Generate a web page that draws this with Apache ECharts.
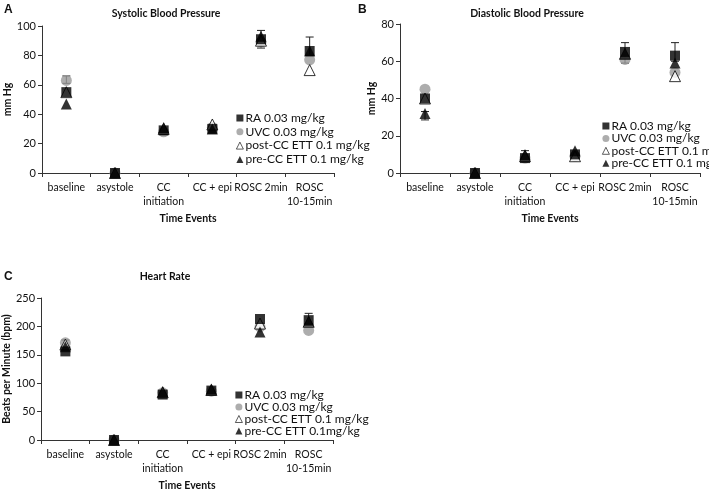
<!DOCTYPE html>
<html><head><meta charset="utf-8">
<script src="https://cdn.jsdelivr.net/npm/echarts@6/dist/echarts.min.js"></script>
<style>html,body{margin:0;padding:0;background:#fff}#c{width:709px;height:492px}</style>
</head><body><div id="c"></div>
<script>
var categories = ['baseline','asystole','CC\ninitiation','CC + epi','ROSC 2min','ROSC\n10-15min'];
var namesAB = ['RA 0.03 mg/kg','UVC 0.03 mg/kg','post-CC ETT 0.1 mg/kg','pre-CC ETT 0.1 mg/kg'];
var namesC = ['RA 0.03 mg/kg','UVC 0.03 mg/kg','post-CC ETT 0.1 mg/kg','pre-CC ETT 0.1mg/kg'];

var sbpRA   = [55, 0, 29, 30, 91, 83];
var sbpUVC  = [63, 0, 28, 31, 89, 77];
var sbpPost = [55, 0, 30, 33, 90, 70];
var sbpPre  = [47, 0, 31, 30, 93, 83];
var sbpErr  = [[0, 61, 66], [4, 85, 97], [5, 80, 92.5]];

var dbpRA   = [40, 0, 8, 10, 65, 63];
var dbpUVC  = [45, 0, 8, 9, 61, 54];
var dbpPost = [40, 0, 9, 9, 64, 52];
var dbpPre  = [32, 0, 10, 12, 64, 59];
var dbpErr  = [[0, 28.5, 33], [2, 8, 12], [4, 59, 70], [5, 60, 70]];

var hrRA    = [156, 0, 80, 87, 213, 211];
var hrUVC   = [171, 0, 83, 86, 199, 193];
var hrPost  = [168, 0, 84, 88, 205, 208];
var hrPre   = [164, 0, 85, 90, 190, 209];
var hrErr   = [[0, 166, 176], [5, 205, 223]];

var yTicksA = {min: 0, max: 100, interval: 20};
var yTicksB = {min: 0, max: 80, interval: 20};
var yTicksC = {min: 0, max: 250, interval: 50};

var FONT = 'Lato';
var axisCol = '#333';

// z order: RA on top, then pre, post, UVC at the bottom
var styles = [
  {symbol: 'rect', symbolSize: 10, z: 6, itemStyle: {color: '#000'}},
  {symbol: 'circle', symbolSize: 11, z: 3, itemStyle: {color: '#999'}},
  {symbol: 'triangle', symbolSize: 11, z: 4, itemStyle: {color: '#fff', borderColor: '#000', borderWidth: 1}},
  {symbol: 'triangle', symbolSize: 11, z: 5, itemStyle: {color: '#000'}}
];

function xAx(gi) {
  return {
    type: 'category', gridIndex: gi, data: categories,
    name: 'Time Events', nameLocation: 'middle', nameGap: 40,
    nameTextStyle: {fontFamily: FONT, fontWeight: 'bold', fontSize: 10.5, color: '#111'},
    axisLine: {lineStyle: {color: axisCol, width: 1}},
    axisTick: {show: true, length: 4, lineStyle: {color: axisCol}},
    axisLabel: {fontFamily: FONT, fontSize: 10.5, color: '#111', margin: 8, lineHeight: 14, interval: 0},
    splitLine: {show: false}
  };
}
function yAx(gi, t, name, gap) {
  return {
    type: 'value', gridIndex: gi, min: t.min, max: t.max, interval: t.interval,
    name: name, nameLocation: 'middle', nameGap: gap, nameRotate: 90,
    nameTextStyle: {fontFamily: FONT, fontWeight: 'bold', fontSize: 10.5, color: '#111'},
    axisLine: {show: true, lineStyle: {color: axisCol, width: 1}},
    axisTick: {show: true, length: 4, lineStyle: {color: axisCol}},
    axisLabel: {fontFamily: FONT, fontSize: 11, color: '#111', margin: 6},
    splitLine: {show: false}
  };
}
function scatterSeries(gi, names, arrays) {
  return arrays.map(function (arr, i) {
    return Object.assign({
      type: 'scatter', name: names[i], xAxisIndex: gi, yAxisIndex: gi, data: arr
    }, JSON.parse(JSON.stringify(styles[i])));
  });
}
function errSeries(gi, data) {
  return {
    type: 'custom', xAxisIndex: gi, yAxisIndex: gi, z: 2, silent: true,
    data: data,
    renderItem: function (params, api) {
      var lo = api.coord([api.value(0), api.value(1)]);
      var hi = api.coord([api.value(0), api.value(2)]);
      var w = 4;
      var st = {stroke: '#222', lineWidth: 1};
      return {type: 'group', children: [
        {type: 'line', shape: {x1: lo[0], y1: lo[1], x2: hi[0], y2: hi[1]}, style: st},
        {type: 'line', shape: {x1: lo[0] - w, y1: lo[1], x2: lo[0] + w, y2: lo[1]}, style: st},
        {type: 'line', shape: {x1: hi[0] - w, y1: hi[1], x2: hi[0] + w, y2: hi[1]}, style: st}
      ]};
    }
  };
}
function legend(names, left, top, lh, gap) {
  return {
    data: names.map(function (n) { return {name: n}; }),
    orient: 'vertical', left: left, top: top, itemWidth: 7, itemHeight: 7, itemGap: gap,
    selectedMode: false, padding: 0,
    itemStyle: {borderWidth: 0.8},
    textStyle: {fontFamily: FONT, fontSize: 12, color: '#111', lineHeight: lh, padding: [0, 0, 0, -3]}
  };
}

var chart = echarts.init(document.getElementById('c'));
var series = [].concat(
  [errSeries(0, sbpErr)], scatterSeries(0, namesAB, [sbpRA, sbpUVC, sbpPost, sbpPre]),
  [errSeries(1, dbpErr)], scatterSeries(1, namesAB, [dbpRA, dbpUVC, dbpPost, dbpPre]),
  [errSeries(2, hrErr)], scatterSeries(2, namesC, [hrRA, hrUVC, hrPost, hrPre])
);
var tStyle = {fontFamily: FONT, fontWeight: 'bold', fontSize: 10.5, fill: '#111', textAlign: 'center', textVerticalAlign: 'middle'};
var lStyle = {fontFamily: 'Liberation Sans', fontWeight: 'bold', fontSize: 12, fill: '#111', textAlign: 'left', textVerticalAlign: 'middle'};
chart.setOption({
  animation: false,
  backgroundColor: '#fff',
  grid: [
    {left: 42, top: 26, width: 292, height: 147},
    {left: 400, top: 24, width: 300, height: 149},
    {left: 40, top: 298, width: 293, height: 146}
  ],
  xAxis: [xAx(0), xAx(1), xAx(2)],
  yAxis: [yAx(0, yTicksA, 'mm Hg', 29), yAx(1, yTicksB, 'mm Hg', 20), yAx(2, yTicksC, 'Beats per Minute (bpm)', 29)],
  legend: [legend(namesAB, 236, 111.5, 13, 0.8), legend(namesAB, 602, 120, 12, 0.4), legend(namesC, 235, 389, 12, 0)],
  graphic: [
    {type: 'text', x: 4, y: 10, style: Object.assign({text: 'A'}, lStyle)},
    {type: 'text', x: 358, y: 10, style: Object.assign({text: 'B'}, lStyle)},
    {type: 'text', x: 4, y: 277, style: Object.assign({text: 'C'}, lStyle)},
    {type: 'text', x: 166, y: 14, style: Object.assign({text: 'Systolic Blood Pressure'}, tStyle)},
    {type: 'text', x: 527, y: 14, style: Object.assign({text: 'Diastolic Blood Pressure'}, tStyle)},
    {type: 'text', x: 165, y: 277, style: Object.assign({text: 'Heart Rate'}, tStyle)}
  ],
  series: series
});
</script></body></html>
